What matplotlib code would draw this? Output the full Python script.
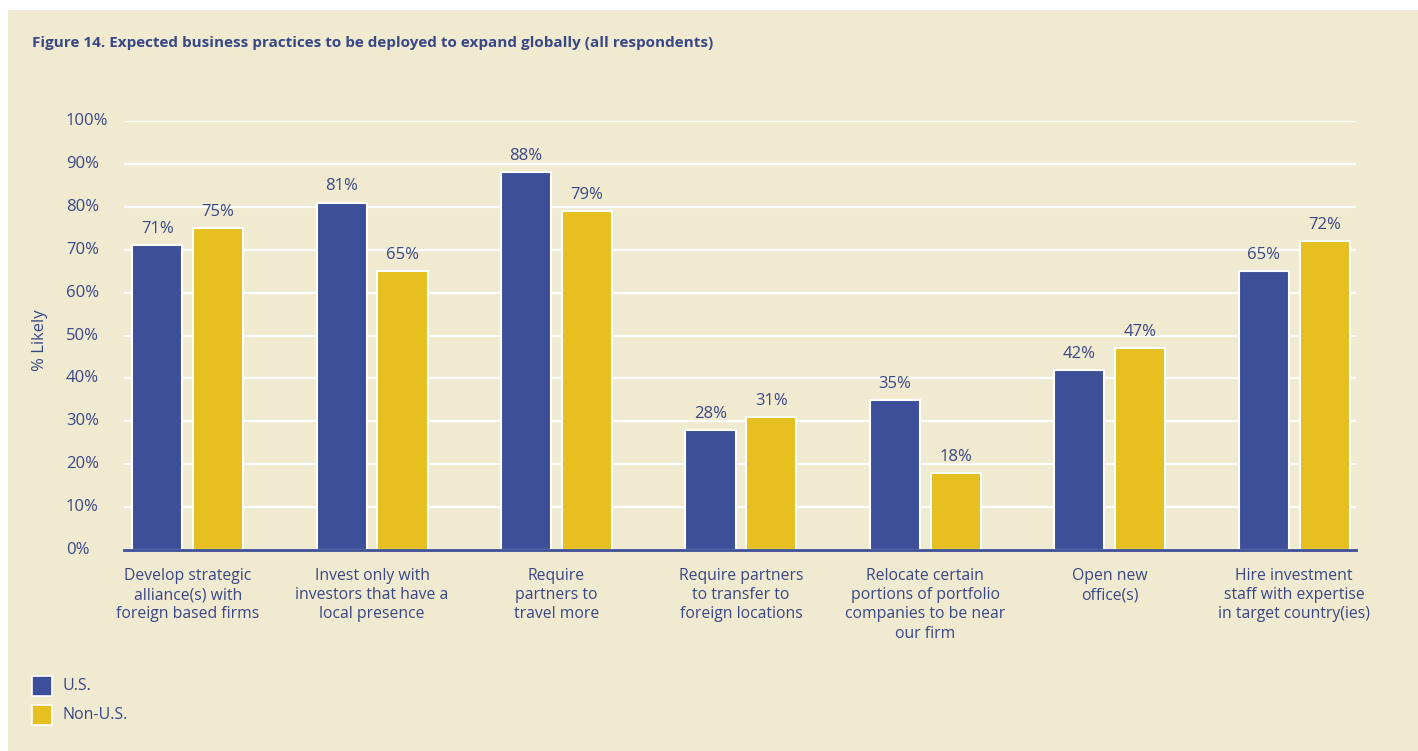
import matplotlib
matplotlib.use("Agg")
import matplotlib.pyplot as plt
from matplotlib.patches import Rectangle
from matplotlib.transforms import blended_transform_factory
import numpy as np

categories = [
    "Develop strategic\nalliance(s) with\nforeign based firms",
    "Invest only with\ninvestors that have a\nlocal presence",
    "Require\npartners to\ntravel more",
    "Require partners\nto transfer to\nforeign locations",
    "Relocate certain\nportions of portfolio\ncompanies to be near\nour firm",
    "Open new\noffice(s)",
    "Hire investment\nstaff with expertise\nin target country(ies)",
]
us_values = [71, 81, 88, 28, 35, 42, 65]
non_us_values = [75, 65, 79, 31, 18, 47, 72]
series_names = ["U.S.", "Non-U.S."]
y_ticks = [0, 10, 20, 30, 40, 50, 60, 70, 80, 90, 100]

BG = "#f0ead0"
BLUE = "#3c4f98"
YELLOW = "#e5c020"
TEXT = "#3a4787"
FONT = ["Open Sans", "DejaVu Sans"]
FS = 12

W, H = 1418, 751
fig = plt.figure(figsize=(W / 100, H / 100), dpi=100)
fig.patch.set_facecolor("white")

# cream panel behind everything
fig.patches.append(Rectangle((8 / W, 0), 1 - 8 / W, 1 - 10 / H,
                             transform=fig.transFigure, facecolor=BG,
                             edgecolor="none", zorder=-10))

fig.text(32 / W, 1 - 43 / H,
         "Figure 14. Expected business practices to be deployed to expand globally (all respondents)",
         family=["Liberation Sans Narrow", "Open Sans", "DejaVu Sans"],
         fontweight="bold", fontsize=11, color=TEXT, va="center", ha="left")

ax_left, ax_right = 124, 1356
ax_bottom, ax_top = 550, 121
ax = fig.add_axes([ax_left / W, 1 - ax_bottom / H,
                   (ax_right - ax_left) / W, (ax_bottom - ax_top) / H])
ax.patch.set_alpha(0)

x = np.arange(len(categories))
bw = 0.272
off = 0.165
b1 = ax.bar(x - off, us_values, bw, color=BLUE, edgecolor="white", linewidth=1.5, zorder=3)
b2 = ax.bar(x + off, non_us_values, bw, color=YELLOW, edgecolor="white", linewidth=1.5, zorder=3)

for bars, vals in ((b1, us_values), (b2, non_us_values)):
    for rect, v in zip(bars, vals):
        ax.text(rect.get_x() + rect.get_width() / 2, v + 1.9, f"{v}%",
                ha="center", va="bottom", fontsize=FS, color=TEXT, family=FONT)

ax.set_xlim(-0.345, 6.335)
ax.set_ylim(0, 100)
ax.set_yticks(y_ticks)
ax.yaxis.grid(True, color="white", linewidth=1.6, zorder=0)
ax.set_axisbelow(True)
for s in ["top", "right", "left"]:
    ax.spines[s].set_visible(False)
ax.spines["bottom"].set_color(BLUE)
ax.spines["bottom"].set_linewidth(2)
ax.spines["bottom"].set_zorder(4)
ax.tick_params(axis="both", length=0)
ax.set_yticklabels([])
ax.set_xticks(x)
ax.set_xticklabels([])

# y tick labels, left-aligned
ytrans = blended_transform_factory(fig.transFigure, ax.transData)
for t in y_ticks:
    ax.text(66 / W, t, f"{t}%", transform=ytrans,
            ha="left", va="center", fontsize=FS, color=TEXT, family=FONT)

fig.text(40 / W, 1 - 340 / H, "% Likely", rotation=90, ha="center", va="center",
         fontsize=FS, color=TEXT, family=FONT)

# category labels
xtrans = blended_transform_factory(ax.transData, fig.transFigure)
for xi, lab in zip(x, categories):
    ax.text(xi, 1 - 568 / H, lab, transform=xtrans, ha="center", va="top",
            fontsize=11.3, color=TEXT, family=FONT, linespacing=1.27)

# legend
for i, (name, col) in enumerate(zip(series_names, [BLUE, YELLOW])):
    y0 = 676 + i * 29
    fig.patches.append(Rectangle((32 / W, 1 - (y0 + 20) / H), 20 / W, 20 / H,
                                 transform=fig.transFigure, facecolor=col,
                                 edgecolor="white", linewidth=1.2, zorder=5))
    fig.text(62 / W, 1 - (y0 + 10) / H, name, ha="left", va="center",
             fontsize=11.5, color=TEXT, family=FONT)

fig.savefig("out.png", dpi=100, facecolor=fig.get_facecolor())
